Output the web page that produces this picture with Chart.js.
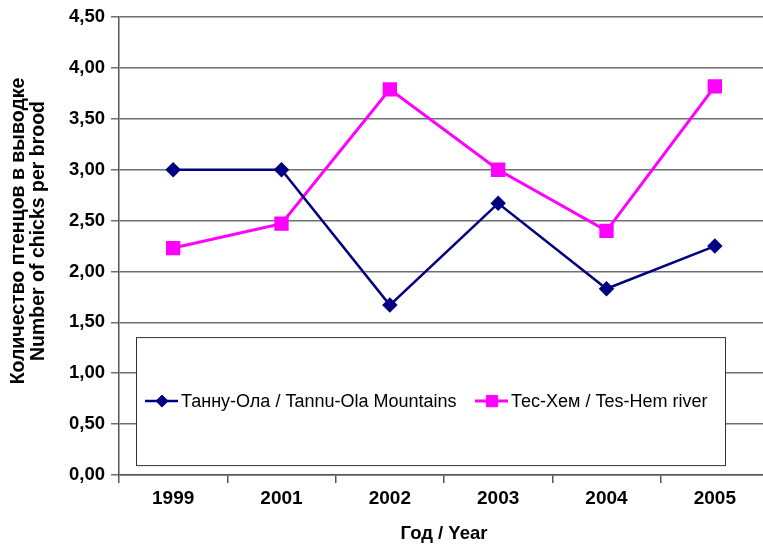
<!DOCTYPE html>
<html><head><meta charset="utf-8">
<script src="https://cdn.jsdelivr.net/npm/chart.js@4/dist/chart.umd.min.js"></script>
<style>html,body{margin:0;padding:0;background:#fff;overflow:hidden;width:763px;height:545px}canvas{display:block}</style>
</head><body>
<canvas id="c" width="780" height="545" style="width:780px;height:545px"></canvas>
<script>
const years = ['1999', '2001', '2002', '2003', '2004', '2005'];
const tannuOla = [3.00, 3.00, 1.67, 2.67, 1.83, 2.25];
const tesHem = [2.23, 2.47, 3.79, 3.00, 2.40, 3.82];
const seriesNames = ['Танну-Ола / Tannu-Ola Mountains', 'Тес-Хем / Tes-Hem river'];
const yMin = 0, yMax = 4.5, yStep = 0.5;
const xTitle = 'Год / Year';
const yTitleLines = ['Количество птенцов в выводке', 'Number of chicks per brood'];

const FONT = "'Liberation Sans', Arial, sans-serif";

function drawMarker(ctx, style, x, y, r) {
  ctx.beginPath();
  if (style === 'rectRot') {
    ctx.moveTo(x - r, y); ctx.lineTo(x, y - r); ctx.lineTo(x + r, y); ctx.lineTo(x, y + r);
  } else {
    const s = r * Math.SQRT1_2;
    ctx.rect(x - s, y - s, 2 * s, 2 * s);
  }
  ctx.closePath();
  ctx.fill();
  ctx.stroke();
}

const legendBox = {
  id: 'legendBox',
  beforeDatasetsDraw(chart) {
    const { ctx, chartArea: ca } = chart;
    const x0 = ca.left + 17, y0 = ca.top + 320, w = 589, h = 128;
    ctx.save();
    ctx.fillStyle = '#fff';
    ctx.fillRect(x0, y0, w, h);
    ctx.strokeStyle = '#333';
    ctx.lineWidth = 1;
    ctx.strokeRect(x0 + 0.5, y0 + 0.5, w, h);
    const cy = y0 + 64;
    const starts = [x0 + 9, x0 + 339];
    chart.data.datasets.forEach((ds, i) => {
      const sx = starts[i];
      ctx.strokeStyle = ds.borderColor;
      ctx.lineWidth = ds.borderWidth;
      ctx.beginPath(); ctx.moveTo(sx, cy); ctx.lineTo(sx + 33, cy); ctx.stroke();
      ctx.fillStyle = ds.pointBackgroundColor;
      ctx.lineWidth = 1;
      drawMarker(ctx, ds.pointStyle, sx + 17, cy, ds.pointRadius);
      ctx.fillStyle = '#000';
      ctx.font = '18px ' + FONT;
      ctx.textBaseline = 'middle';
      ctx.textAlign = 'left';
      ctx.fillText(ds.label, sx + 36, cy + 1);
    });
    ctx.restore();
  }
};

const yTitlePlugin = {
  id: 'yTitle',
  afterDraw(chart) {
    const ctx = chart.ctx;
    ctx.save();
    ctx.fillStyle = '#000';
    ctx.font = 'bold 19.5px ' + FONT;
    ctx.textAlign = 'center';
    ctx.textBaseline = 'middle';
    yTitleLines.forEach((t, i) => {
      ctx.save();
      ctx.translate(19 + i * 20, 231);
      ctx.rotate(-Math.PI / 2);
      ctx.fillText(t, 0, 0);
      ctx.restore();
    });
    ctx.restore();
  }
};

new Chart(document.getElementById('c'), {
  type: 'line',
  data: {
    labels: years,
    datasets: [
      {
        label: seriesNames[0], data: tannuOla,
        borderColor: '#000080', backgroundColor: '#000080',
        pointBackgroundColor: '#000080', pointBorderColor: '#000080',
        borderWidth: 2.5, pointStyle: 'rectRot', pointRadius: 6, pointHoverRadius: 6,
        tension: 0, fill: false
      },
      {
        label: seriesNames[1], data: tesHem,
        borderColor: '#FF00FF', backgroundColor: '#FF00FF',
        pointBackgroundColor: '#FF00FF', pointBorderColor: '#FF00FF',
        borderWidth: 3, pointStyle: 'rect', pointRadius: 8, pointHoverRadius: 8,
        tension: 0, fill: false
      }
    ]
  },
  options: {
    responsive: false,
    animation: false,
    events: [],
    layout: { padding: { top: 15, right: 7, bottom: 0, left: 0 } },
    plugins: { legend: { display: false }, tooltip: { enabled: false } },
    scales: {
      x: {
        type: 'category',
        offset: true,
        grid: { offset: true, drawOnChartArea: false, drawTicks: true, tickLength: 8, color: '#555', lineWidth: 1.5 },
        border: { color: '#555', width: 1.5 },
        ticks: { color: '#000', font: { family: FONT, size: 19, weight: 'bold' }, padding: 4, maxRotation: 0 },
        title: { display: true, text: xTitle, color: '#000', font: { family: FONT, size: 18.5, weight: 'bold', lineHeight: 1.2 }, padding: { top: 0, bottom: 0 } },
        afterFit(scale) { scale.height = 70; }
      },
      y: {
        min: yMin, max: yMax,
        grid: { color: '#6f6f6f', lineWidth: 1.5, tickLength: 8, drawTicks: true },
        border: { color: '#555', width: 1.5 },
        ticks: {
          stepSize: yStep, color: '#000', padding: 6,
          font: { family: FONT, size: 18.5, weight: 'bold' },
          callback: v => Number(v).toFixed(2).replace('.', ',')
        },
        afterFit(scale) { scale.width = 119; }
      }
    }
  },
  plugins: [legendBox, yTitlePlugin]
});
</script>
</body></html>
